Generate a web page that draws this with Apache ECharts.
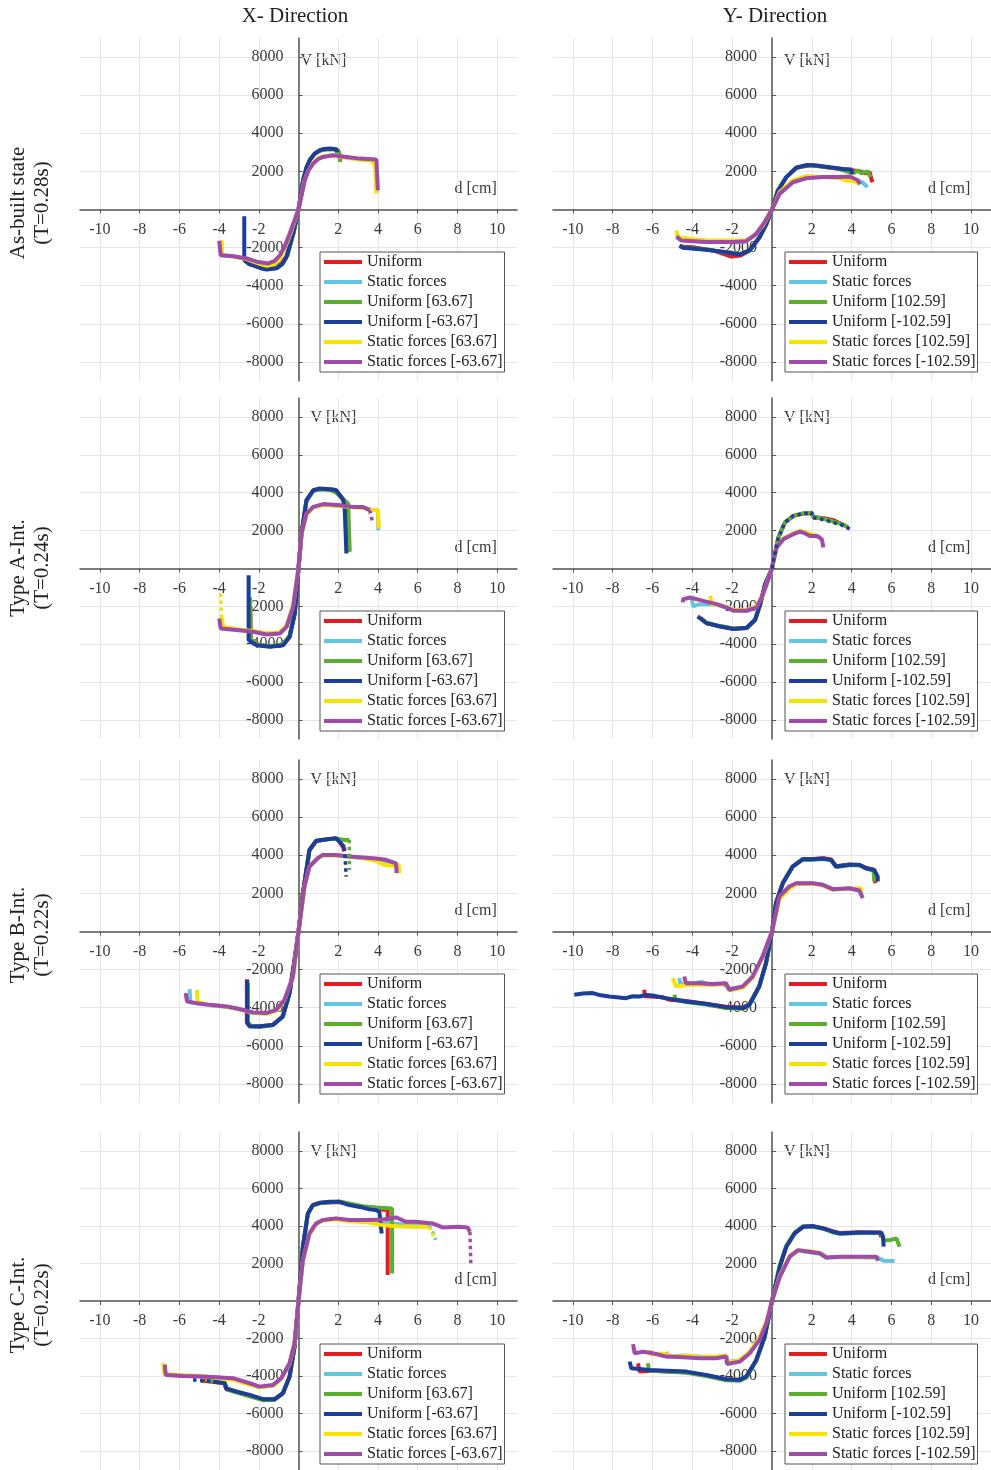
<!DOCTYPE html>
<html>
<head>
<meta charset="utf-8">
<title>Pushover curves</title>
<script src="https://cdn.jsdelivr.net/npm/echarts@6/dist/echarts.min.js"></script>
<style>
  html, body { margin: 0; padding: 0; background: #fff; }
  #chart { width: 991px; height: 1470px; }
</style>
</head>
<body>
<div id="chart"></div>
<script>
// d [cm], V [kN] pairs, one array per curve
// --- As-built, X
const abX_U = [[-2.7,-2650],[-2.45,-2880],[-2.1,-3000],[-1.7,-3120],[-1.2,-3080],[-0.85,-2820],[-0.58,-2420],[-0.26,-1250],[0,0],[0.24,1560],[0.42,2250],[0.58,2620],[0.82,2930],[1.08,3100],[1.4,3170],[1.75,3170],[2.0,3100],[2.12,2620],[2.2,2600]];
const abX_S = [[-3.9,-1650],[-3.88,-2390],[-3.3,-2460],[-2.6,-2590],[-2.1,-2780],[-1.6,-2900],[-1.2,-2800],[-0.9,-2450],[-0.6,-1800],[-0.35,-1100],[0,0],[0.3,1520],[0.5,2050],[0.74,2430],[1.0,2680],[1.3,2790],[1.8,2840],[2.4,2740],[3.1,2640],[3.7,2580],[3.88,2400],[3.95,900]];
const abX_Up = [[-2.65,-2600],[-2.5,-2820],[-2.2,-2950],[-1.8,-3080],[-1.5,-3100],[-1.1,-3050],[-0.8,-2820],[-0.55,-2400],[-0.25,-1250],[0,0],[0.25,1580],[0.45,2300],[0.6,2650],[0.85,2950],[1.1,3100],[1.4,3150],[1.7,3150],[1.95,3150],[2.05,3000],[2.08,2500]];
const abX_Un = [[-2.73,-350],[-2.73,-2660],[-2.5,-2850],[-2.28,-2920],[-1.9,-3080],[-1.6,-3150],[-1.1,-3090],[-0.8,-2850],[-0.6,-2480],[-0.27,-1260],[0,0],[0.23,1540],[0.4,2200],[0.57,2590],[0.8,2920],[1.07,3110],[1.3,3180],[1.57,3200],[1.9,3160],[1.95,3000]];
const abX_Sp = [[-3.87,-1610],[-3.85,-2380],[-3.3,-2470],[-2.6,-2600],[-2.1,-2800],[-1.6,-2950],[-1.2,-2850],[-0.9,-2500],[-0.6,-1800],[-0.35,-1100],[0,0],[0.3,1500],[0.5,2050],[0.74,2450],[1.0,2700],[1.3,2800],[1.8,2830],[2.4,2720],[3.1,2620],[3.7,2560],[3.85,2300],[3.92,840]];
const abX_Sn = [[-3.99,-1640],[-3.92,-2400],[-3.28,-2450],[-2.6,-2570],[-2.1,-2740],[-1.52,-2830],[-1.2,-2700],[-0.94,-2400],[-0.7,-1950],[-0.44,-1260],[0,0],[0.32,1540],[0.5,2050],[0.74,2410],[1.0,2650],[1.24,2760],[1.74,2850],[2.41,2760],[3.08,2670],[3.92,2620],[4.0,1010]];
// --- As-built, Y
const abY_U = [[-4.64,-1940],[-3.97,-1980],[-2.96,-2150],[-2.04,-2470],[-1.6,-2420],[-1.2,-2200],[-0.62,-1450],[-0.28,-750],[0,0],[0.3,1000],[0.72,1700],[1.22,2190],[1.98,2340],[2.9,2190],[3.9,2080],[4.4,2010],[4.7,1900],[4.9,1960],[5.04,1430]];
const abY_S = [[-4.75,-1300],[-4.7,-1550],[-4.3,-1620],[-3.3,-1700],[-2.3,-1690],[-1.4,-1680],[-0.9,-1400],[-0.45,-800],[0,0],[0.38,880],[1.05,1500],[1.72,1720],[2.56,1700],[3.4,1680],[3.9,1650],[4.2,1550],[4.5,1450],[4.8,1180]];
const abY_Up = [[-4.6,-1900],[-4.4,-2000],[-3.3,-2100],[-2.3,-2250],[-1.62,-2340],[-1.12,-2150],[-0.62,-1450],[-0.28,-750],[0,0],[0.3,1000],[0.72,1700],[1.22,2190],[1.72,2330],[2.5,2250],[3.3,2150],[4.07,1900],[4.3,2050],[4.5,1900],[4.8,2000],[4.95,1700]];
const abY_Un = [[-4.64,-1890],[-4.47,-2010],[-3.3,-2115],[-2.29,-2240],[-1.62,-2360],[-1.12,-2150],[-0.62,-1450],[-0.28,-750],[0,0],[0.3,1000],[0.72,1700],[1.22,2190],[1.72,2330],[2.23,2310],[2.9,2220],[3.57,2130],[3.99,2100],[4.02,1870]];
const abY_Sp = [[-4.8,-1100],[-4.72,-1450],[-4.47,-1490],[-3.3,-1630],[-2.3,-1630],[-1.29,-1630],[-0.87,-1360],[-0.45,-840],[0,0],[0.38,900],[1.05,1530],[1.72,1750],[2.56,1700],[3.4,1660],[3.7,1520],[4.1,1500],[4.4,1340]];
const abY_Sn = [[-4.8,-1420],[-4.56,-1630],[-3.3,-1710],[-1.96,-1710],[-1.29,-1660],[-0.79,-1280],[-0.37,-660],[0,0],[0.38,820],[1.05,1430],[1.72,1640],[2.56,1700],[3.4,1700],[3.9,1730],[4.27,1560],[4.44,1340]];
// --- Type A-Int., X
const aX_U = [[-2.42,-2000],[-2.4,-3750],[-2.05,-4020],[-1.44,-4110],[-0.8,-4030],[-0.45,-3580],[-0.19,-2350],[0,0],[0.15,1830],[0.4,3580],[0.74,4120],[1.07,4200],[1.7,4160],[1.9,4100],[2.1,3850],[2.3,3600],[2.4,3300],[2.45,1000]];
const aX_S = [[-3.92,-2700],[-3.88,-3120],[-3.1,-3220],[-2.3,-3320],[-1.6,-3450],[-0.94,-3400],[-0.6,-3050],[-0.27,-2000],[0,0],[0.15,1830],[0.4,2880],[0.74,3230],[1.24,3370],[2.08,3320],[2.75,3240],[3.25,3220],[3.6,3120],[4.0,3080],[4.02,2020]];
const aX_Up = [[-2.45,-1500],[-2.42,-3700],[-2.1,-4000],[-1.44,-4100],[-0.8,-4000],[-0.45,-3550],[-0.2,-2300],[0,0],[0.15,1800],[0.4,3550],[0.74,4100],[1.07,4180],[1.6,4150],[1.9,4000],[2.2,3700],[2.5,3430],[2.58,880]];
const aX_Un = [[-2.51,-350],[-2.51,-3780],[-2.11,-4050],[-1.44,-4130],[-0.77,-4050],[-0.44,-3600],[-0.18,-2370],[0,0],[0.15,1850],[0.4,3610],[0.74,4130],[1.07,4220],[1.74,4170],[1.9,4130],[2.08,3870],[2.25,3610],[2.33,3080],[2.41,790]];
const aX_Sp = [[-3.87,-2550],[-3.79,-3080],[-3.1,-3200],[-2.3,-3300],[-1.6,-3420],[-0.94,-3380],[-0.6,-3020],[-0.27,-1950],[0,0],[0.15,1800],[0.4,2850],[0.74,3220],[1.24,3350],[2.08,3300],[2.75,3230],[3.25,3200],[3.6,3100],[4.0,3080],[4.05,2110]];
const aX_Sn = [[-3.99,-2640],[-3.92,-3170],[-3.12,-3250],[-2.28,-3340],[-1.61,-3480],[-0.94,-3430],[-0.6,-3080],[-0.27,-2020],[0,0],[0.15,1850],[0.4,2900],[0.74,3250],[1.24,3400],[2.08,3340],[2.75,3250],[3.25,3250],[3.58,3080]];
const aX_Sp_dot = [[-3.92,-1320],[-3.87,-2550]];
const aX_Sn_dot = [[3.58,3080],[3.75,2370]];
// --- Type A-Int., Y
const aY_U = [[-3.6,-2600],[-3.3,-2870],[-2.61,-3050],[-1.94,-3180],[-1.27,-3140],[-0.85,-2720],[-0.6,-1920],[-0.35,-850],[0,0],[0.07,400],[0.32,1640],[0.65,2430],[1.07,2780],[1.57,2900],[2.0,2900],[2.1,2700],[2.6,2650],[3.1,2550],[3.5,2350],[3.7,2250]];
const aY_S = [[-4.05,-1550],[-3.95,-2000],[-3.7,-1900],[-3.3,-1880],[-2.9,-1900],[-2.5,-1980],[-2.0,-2180],[-1.3,-2220],[-0.8,-2020],[-0.5,-1500],[-0.27,-820],[0,0],[0.23,1100],[0.57,1560],[1.07,1830],[1.41,1970],[1.7,1880],[2.0,1770],[2.3,1720],[2.45,1620]];
const aY_Up = [[-3.5,-2700],[-3.28,-2880],[-2.61,-3040],[-1.94,-3170],[-1.27,-3150],[-0.85,-2750],[-0.6,-1950],[-0.35,-850],[0,0],[0.07,400],[0.32,1640],[0.65,2430],[1.07,2780],[1.57,2900],[1.99,2950],[2.05,2750],[2.5,2650],[3.0,2500],[3.5,2350],[3.84,2170]];
const aY_Un = [[-3.74,-2530],[-3.7,-2590],[-3.28,-2890],[-2.61,-3060],[-1.94,-3190],[-1.27,-3130],[-0.85,-2700],[-0.6,-1900],[-0.35,-840],[0,0]];
const aY_Sp = [[-3.1,-1450],[-3.03,-1900],[-2.8,-1900],[-2.5,-1980],[-2.2,-2050],[-2.0,-2180],[-1.3,-2220],[-0.8,-2000],[-0.5,-1500],[-0.27,-800],[0,0],[0.23,1100],[0.57,1580],[1.07,1850],[1.41,1990],[1.7,1900],[2.0,1800],[2.43,1640]];
const aY_Sn = [[-4.49,-1790],[-4.46,-1620],[-4.12,-1530],[-3.45,-1710],[-2.78,-1880],[-2.28,-2060],[-1.94,-2230],[-1.27,-2230],[-0.77,-2060],[-0.52,-1530],[-0.27,-830],[0,0],[0.07,400],[0.23,1110],[0.57,1550],[1.07,1810],[1.41,1950],[1.66,1850],[1.91,1720],[2.24,1720],[2.5,1550],[2.58,1110]];
const aY_Un_dot = [[0,0],[0.07,400],[0.32,1640],[0.65,2430],[1.07,2780],[1.57,2900],[2.0,2960],[2.0,2690],[2.5,2600],[3.0,2450],[3.5,2300],[3.92,2080]];
// --- Type B-Int., X
const bX_U = [[-2.6,-2500],[-2.6,-4780],[-2.45,-4960],[-1.96,-4970],[-1.29,-4890],[-0.79,-4450],[-0.45,-3220],[-0.2,-1480],[0,0],[0.22,2000],[0.55,4270],[0.89,4750],[1.56,4850],[1.89,4890],[2.06,4720],[2.23,4460],[2.31,4200]];
const bX_S = [[-5.48,-3020],[-5.45,-3720],[-4.9,-3800],[-4.3,-3880],[-3.63,-3950],[-2.96,-4100],[-2.29,-4270],[-1.62,-4300],[-1.12,-4130],[-0.7,-3600],[-0.28,-2370],[0,0],[0.3,2340],[0.55,3400],[0.97,3840],[1.22,4010],[1.89,4010],[2.56,3920],[3.23,3870],[3.9,3780],[4.41,3700],[4.9,3550],[5.0,3100]];
const bX_Up = [[-2.55,-2700],[-2.55,-4750],[-2.4,-4950],[-1.9,-5000],[-1.29,-4920],[-0.8,-4500],[-0.45,-3250],[-0.2,-1500],[0,0],[0.22,2000],[0.55,4250],[0.89,4750],[1.56,4850],[2.0,4850],[2.3,4800],[2.56,4810]];
const bX_Un = [[-2.58,-2540],[-2.58,-4810],[-2.46,-4980],[-1.96,-4980],[-1.29,-4900],[-0.79,-4460],[-0.45,-3230],[-0.2,-1490],[0,0],[0.22,2010],[0.55,4280],[0.89,4760],[1.56,4860],[1.89,4900],[2.06,4720],[2.31,4420]];
const bX_Sp = [[-5.11,-3060],[-5.08,-3700],[-4.5,-3850],[-3.6,-3950],[-2.9,-4100],[-2.3,-4280],[-1.6,-4320],[-1.1,-4150],[-0.7,-3600],[-0.28,-2380],[0,0],[0.3,2350],[0.55,3400],[0.97,3850],[1.22,4000],[1.89,3990],[2.56,3930],[3.23,3850],[3.9,3700],[4.3,3500],[4.7,3450],[5.05,3500],[5.08,3060]];
const bX_Sn = [[-5.68,-3230],[-5.61,-3670],[-5.14,-3760],[-4.47,-3850],[-3.63,-3930],[-2.96,-4070],[-2.29,-4250],[-1.62,-4280],[-1.12,-4110],[-0.7,-3580],[-0.28,-2360],[0,0],[0.3,2360],[0.55,3410],[0.97,3850],[1.22,4020],[1.89,4020],[2.56,3930],[3.23,3880],[3.9,3830],[4.41,3760],[4.91,3580],[4.94,3060]];
const bX_Up_dot = [[2.56,4810],[2.56,3230]];
const bX_Un_dot = [[2.31,4420],[2.35,3800],[2.4,2880]];
// --- Type B-Int., Y
const bY_U = [[-6.42,-3060],[-6.38,-3400],[-5.9,-3420],[-5.5,-3450],[-5.16,-3580],[-4.3,-3650],[-3.3,-3800],[-2.3,-3950],[-1.5,-4000],[-1.14,-3830],[-0.64,-2860],[-0.3,-1650],[0,0],[0.2,1500],[0.54,2550],[1.04,3420],[1.54,3800],[2.04,3800],[2.6,3850],[2.97,3780],[3.22,3430],[3.89,3520],[4.39,3480],[4.72,3350],[5.1,3250],[5.19,2530]];
const bY_S = [[-4.66,-2450],[-4.6,-2750],[-4.0,-2720],[-3.5,-2650],[-3.2,-2780],[-2.5,-2740],[-2.14,-3000],[-1.47,-2900],[-0.97,-2380],[-0.47,-1320],[0,0],[0.37,1800],[0.87,2340],[1.21,2520],[2.04,2520],[2.55,2440],[3.05,2210],[3.89,2260],[4.4,2150],[4.5,1900]];
const bY_Up = [[-4.9,-3320],[-4.85,-3560],[-4.32,-3700],[-3.32,-3830],[-2.31,-4010],[-1.47,-4060],[-1.14,-3880],[-0.64,-2900],[-0.3,-1680],[0,0],[0.2,1480],[0.54,2520],[1.04,3400],[1.54,3780],[2.04,3760],[2.55,3800],[2.97,3740],[3.22,3380],[3.89,3480],[4.39,3480],[4.72,3300],[5.1,3200],[5.14,2620]];
const bY_Un = [[-9.93,-3320],[-9.5,-3250],[-9.0,-3230],[-8.6,-3350],[-8.17,-3410],[-7.8,-3450],[-7.34,-3500],[-7.0,-3400],[-6.67,-3410],[-6.3,-3330],[-6.0,-3360],[-5.33,-3500],[-4.32,-3670],[-3.32,-3790],[-2.31,-3970],[-1.47,-4020],[-1.14,-3850],[-0.64,-2880],[-0.3,-1660],[0,0],[0.2,1490],[0.54,2530],[1.04,3410],[1.54,3790],[2.04,3790],[2.55,3830],[2.97,3760],[3.22,3410],[3.89,3500],[4.39,3500],[4.72,3320],[5.14,3230],[5.31,2880],[5.31,2620]];
const bY_Sp = [[-4.99,-2450],[-4.82,-2880],[-4.2,-2800],[-3.5,-2780],[-2.9,-2800],[-2.3,-2760],[-2.14,-3100],[-1.47,-2960],[-0.97,-2420],[-0.47,-1350],[0,0],[0.37,1700],[0.87,2250],[1.21,2480],[2.04,2500],[2.55,2420],[3.05,2200],[3.89,2250],[4.47,2270],[4.5,2050]];
const bY_Sn = [[-4.41,-2360],[-4.32,-2710],[-3.65,-2710],[-2.98,-2760],[-2.31,-2710],[-2.14,-3060],[-1.47,-2880],[-0.97,-2360],[-0.47,-1310],[0,0],[0.37,1840],[0.87,2360],[1.21,2530],[2.04,2530],[2.55,2450],[3.05,2220],[3.89,2270],[4.39,2150],[4.56,1750]];
// --- Type C-Int., X
const cX_U = [[-4.9,-4240],[-3.72,-4380],[-3.64,-4700],[-3.13,-4850],[-2.46,-5050],[-1.79,-5250],[-1.21,-5250],[-0.79,-4930],[-0.45,-4040],[-0.2,-2440],[0,0],[0.22,2880],[0.47,4650],[0.72,5100],[1.06,5220],[1.56,5250],[2.06,5270],[2.56,5150],[3.23,5000],[3.9,4900],[4.49,4840],[4.49,1380]];
const cX_S = [[-6.75,-3350],[-6.7,-3920],[-5.8,-3970],[-4.9,-4010],[-4.1,-4080],[-3.3,-4150],[-2.46,-4400],[-1.96,-4580],[-1.29,-4490],[-0.87,-4120],[-0.45,-3330],[-0.2,-2260],[0,0],[0.22,2170],[0.55,3580],[0.89,4120],[1.22,4300],[1.89,4380],[2.56,4290],[3.4,4250],[4.24,4100],[4.5,4150],[5.5,4050],[6.58,4040]];
const cX_Up = [[-4.7,-4200],[-3.7,-4350],[-3.6,-4700],[-3.13,-4870],[-2.46,-5080],[-1.79,-5280],[-1.21,-5270],[-0.79,-4950],[-0.45,-4060],[-0.2,-2450],[0,0],[0.22,2850],[0.47,4630],[0.72,5080],[1.06,5200],[1.56,5260],[2.06,5300],[2.56,5200],[3.23,5050],[3.9,4980],[4.71,4930],[4.71,1470]];
const cX_Un = [[-4.3,-4290],[-3.72,-4380],[-3.64,-4650],[-3.13,-4820],[-2.46,-5000],[-1.79,-5230],[-1.21,-5230],[-0.79,-4910],[-0.45,-4020],[-0.2,-2430],[0,0],[0.22,2890],[0.47,4660],[0.72,5110],[1.06,5230],[1.56,5280],[2.06,5280],[2.56,5110],[3.23,4980],[3.57,4880],[3.9,4840],[4.07,4750],[4.15,3950],[4.19,3600]];
const cX_Sp = [[-6.81,-3310],[-6.75,-3900],[-5.8,-3960],[-4.9,-4000],[-4.1,-4100],[-3.3,-4200],[-2.46,-4450],[-1.96,-4600],[-1.29,-4520],[-0.87,-4150],[-0.45,-3350],[-0.2,-2280],[0,0],[0.22,2150],[0.55,3550],[0.89,4100],[1.22,4280],[1.89,4350],[2.56,4250],[3.4,4200],[4.24,4040],[5.0,3980],[5.9,3960],[6.58,3950]];
const cX_Sn = [[-6.73,-3400],[-6.68,-3940],[-5.81,-3990],[-4.97,-4020],[-4.14,-4060],[-3.3,-4110],[-2.46,-4380],[-1.96,-4560],[-1.29,-4470],[-0.87,-4110],[-0.45,-3320],[-0.2,-2250],[0,0],[0.22,2180],[0.55,3600],[0.89,4130],[1.22,4310],[1.89,4400],[2.56,4310],[3.4,4310],[4.24,4340],[4.91,4450],[5.41,4220],[5.91,4220],[6.75,4130],[7.25,3920],[8.09,3950],[8.51,3920],[8.63,3690]];
const cX_S_dot = [[6.58,4040],[6.8,3600],[6.9,3250]];
const cX_Un_dot = [[-5.31,-4200],[-4.3,-4290]];
const cX_Sp_dot = [[6.58,3950],[6.75,3600],[6.83,3250]];
const cX_Sn_dot = [[8.63,3690],[8.68,1830]];
// --- Type C-Int., Y
const cY_U = [[-6.73,-3320],[-6.65,-3760],[-6.0,-3720],[-5.3,-3760],[-4.3,-3800],[-3.3,-3960],[-2.29,-4180],[-1.62,-4220],[-1.29,-4040],[-0.79,-3150],[-0.37,-1900],[0,0],[0.39,1850],[0.72,2900],[1.14,3620],[1.56,3960],[2.06,3980],[2.56,3880],[3.07,3700],[3.4,3620],[4.41,3660],[5.4,3640],[5.5,3400]];
const cY_S = [[-5.31,-2700],[-5.25,-2950],[-4.5,-2900],[-3.6,-2950],[-2.8,-2980],[-2.29,-2950],[-2.26,-3250],[-1.62,-3150],[-1.12,-2720],[-0.62,-2000],[-0.28,-1150],[0,0],[0.39,1300],[0.89,2380],[1.31,2680],[1.89,2600],[2.4,2520],[2.73,2300],[3.4,2340],[4.41,2330],[5.3,2300],[5.6,2150],[6.16,2130]];
const cY_Up = [[-6.23,-3320],[-6.18,-3720],[-5.31,-3760],[-4.3,-3820],[-3.3,-4000],[-2.29,-4220],[-1.62,-4250],[-1.29,-4080],[-0.79,-3200],[-0.37,-1950],[0,0],[0.39,1900],[0.72,2950],[1.14,3650],[1.56,3980],[2.06,3950],[2.56,3850],[3.07,3650],[3.4,3580],[4.41,3620],[5.49,3620],[5.6,3250],[5.91,3240],[6.25,3330],[6.41,2890]];
const cY_Un = [[-7.15,-3230],[-7.07,-3580],[-6.15,-3670],[-5.31,-3710],[-4.3,-3760],[-3.3,-3940],[-2.29,-4170],[-1.62,-4200],[-1.29,-4020],[-0.79,-3140],[-0.37,-1900],[0,0],[0.39,1830],[0.72,2890],[1.14,3600],[1.56,3950],[2.06,3990],[2.56,3870],[3.07,3690],[3.4,3600],[4.41,3650],[5.49,3650],[5.58,3420],[5.61,2890]];
const cY_Sp = [[-6.15,-2610],[-6.1,-2850],[-5.5,-2800],[-4.9,-2950],[-4.2,-2900],[-3.63,-3000],[-2.8,-2950],[-2.29,-2900],[-2.26,-3300],[-1.62,-3150],[-1.12,-2700],[-0.62,-1950],[-0.28,-1100],[0,0],[0.39,1350],[0.89,2400],[1.31,2700],[1.89,2650],[2.4,2560],[2.73,2340],[3.4,2340],[4.41,2340],[5.24,2330],[5.24,2180]];
const cY_Sn = [[-6.98,-2300],[-6.9,-2780],[-6.48,-2700],[-5.98,-2780],[-5.31,-2960],[-4.47,-3000],[-3.63,-3050],[-2.8,-3050],[-2.29,-2960],[-2.26,-3350],[-1.62,-3230],[-1.12,-2780],[-0.62,-2070],[-0.28,-1190],[0,0],[0.39,1290],[0.89,2360],[1.31,2710],[1.89,2620],[2.4,2540],[2.73,2320],[3.4,2360],[4.41,2360],[5.24,2360],[5.33,2150]];

const namesX = ["Uniform", "Static forces", "Uniform [63.67]", "Uniform [-63.67]", "Static forces [63.67]", "Static forces [-63.67]"];
const namesY = ["Uniform", "Static forces", "Uniform [102.59]", "Uniform [-102.59]", "Static forces [102.59]", "Static forces [-102.59]"];
const colors = ["#e31b23", "#63c5df", "#5bae30", "#1b3e98", "#f6e300", "#a04ba7"];
const xTicks = [-10, -8, -6, -4, -2, 0, 2, 4, 6, 8, 10];
const yTicks = [-8000, -6000, -4000, -2000, 0, 2000, 4000, 6000, 8000];
const colTitles = ["X- Direction", "Y- Direction"];
const rowTitles = [
  ["As-built state", "(T=0.28s)"],
  ["Type A-Int.", "(T=0.24s)"],
  ["Type B-Int.", "(T=0.22s)"],
  ["Type C-Int.", "(T=0.22s)"]
];

// panels in reading order; dotted = [curve index, data]
const panels = [
  { curves: [abX_U, abX_S, abX_Up, abX_Un, abX_Sp, abX_Sn], dotted: [] },
  { curves: [abY_U, abY_S, abY_Up, abY_Un, abY_Sp, abY_Sn], dotted: [] },
  { curves: [aX_U, aX_S, aX_Up, aX_Un, aX_Sp, aX_Sn], dotted: [[4, aX_Sp_dot], [5, aX_Sn_dot]] },
  { curves: [aY_U, aY_S, aY_Up, aY_Un, aY_Sp, aY_Sn], dotted: [[3, aY_Un_dot]] },
  { curves: [bX_U, bX_S, bX_Up, bX_Un, bX_Sp, bX_Sn], dotted: [[2, bX_Up_dot], [3, bX_Un_dot]] },
  { curves: [bY_U, bY_S, bY_Up, bY_Un, bY_Sp, bY_Sn], dotted: [] },
  { curves: [cX_U, cX_S, cX_Up, cX_Un, cX_Sp, cX_Sn], dotted: [[1, cX_S_dot], [3, cX_Un_dot], [4, cX_Sp_dot], [5, cX_Sn_dot]] },
  { curves: [cY_U, cY_S, cY_Up, cY_Un, cY_Sp, cY_Sn], dotted: [] }
];

// layout (px)
const font = "Liberation Serif";
const colLeft = [80, 553];
const colWidth = [437, 438];
const rowTop = [38, 398, 760, 1132];
const rowHeight = [343, 341, 343, 338];
const legendLeft = [320, 785];
const legendTop = [252, 611, 974, 1344];
const titleX = [295, 775];
const rowLabelY = [203, 568, 935, 1305];

const grid = [], xAxis = [], yAxis = [], legend = [], series = [], graphic = [];

panels.forEach(function (p, i) {
  const r = Math.floor(i / 2), c = i % 2;
  const names = c === 0 ? namesX : namesY;
  grid.push({ left: colLeft[c], top: rowTop[r], width: colWidth[c], height: rowHeight[r] });
  // axes are shifted into the middle of the grid, where d = 0 and V = 0
  xAxis.push({
    type: "value", gridIndex: i, min: -11, max: 11,
    offset: -rowHeight[r] / 2,
    axisLine: { onZero: false, lineStyle: { color: "#555", width: 1.5 } },
    axisTick: { customValues: xTicks, length: 4, lineStyle: { color: "#555" } },
    axisLabel: { customValues: xTicks.filter(v => v !== 0), margin: 12, fontFamily: font, fontSize: 16, color: "#3a3a3a", formatter: v => String(v) },
    splitLine: { show: true, lineStyle: { color: "#e6e6e6" } }
  });
  yAxis.push({
    type: "value", gridIndex: i, min: -9000, max: 9000,
    offset: -colWidth[c] / 2,
    axisLine: { onZero: false, lineStyle: { color: "#555", width: 1.5 } },
    axisTick: { customValues: yTicks, inside: true, length: 4, lineStyle: { color: "#555" } },
    axisLabel: { customValues: yTicks.filter(v => v !== 0), margin: 15, fontFamily: font, fontSize: 16, color: "#3a3a3a", formatter: v => String(v) },
    splitLine: { show: true, lineStyle: { color: "#e6e6e6" } }
  });
  legend.push({
    left: legendLeft[c], top: legendTop[r], orient: "vertical",
    data: names, icon: "rect", itemWidth: 38, itemHeight: 4, itemGap: 4,
    padding: [2, 2, 2, 4], borderColor: "#555", borderWidth: 1, backgroundColor: "#fff",
    selectedMode: false,
    textStyle: { fontFamily: font, fontSize: 16, color: "#222", lineHeight: 16 }
  });
  p.curves.forEach(function (data, k) {
    series.push({
      type: "line", name: names[k], xAxisIndex: i, yAxisIndex: i, data: data,
      showSymbol: false, symbol: "none", silent: true,
      itemStyle: { color: colors[k] },
      lineStyle: { color: colors[k], width: 4 }
    });
  });
  p.dotted.forEach(function (d) {
    series.push({
      type: "line", name: names[d[0]], xAxisIndex: i, yAxisIndex: i, data: d[1],
      showSymbol: false, symbol: "none", silent: true,
      itemStyle: { color: colors[d[0]] },
      lineStyle: { color: colors[d[0]], width: 3.5, type: "dotted" }
    });
  });

  // axis names
  const x0 = colLeft[c] + colWidth[c] / 2;
  const y0 = rowTop[r] + rowHeight[r] / 2;
  const y8000 = rowTop[r] + rowHeight[r] * (1000 / 18000);
  graphic.push({
    type: "text", x: x0 + (i === 0 ? 2 : 12), y: y8000 + (r === 0 ? 4 : 1),
    style: { text: "V [kN]", font: "16px '" + font + "'", fill: "#3a3a3a", textVerticalAlign: "middle" }
  });
  graphic.push({
    type: "text", x: x0 + 156, y: y0 - 21,
    style: { text: "d [cm]", font: "16px '" + font + "'", fill: "#3a3a3a", textVerticalAlign: "middle" }
  });
});

colTitles.forEach(function (t, c) {
  graphic.push({
    type: "text", x: titleX[c], y: 16,
    style: { text: t, font: "21px '" + font + "'", fill: "#222", textAlign: "center", textVerticalAlign: "middle" }
  });
});
rowTitles.forEach(function (t, r) {
  [18, 42].forEach(function (x, j) {
    graphic.push({
      type: "text", x: x, y: rowLabelY[r], rotation: Math.PI / 2,
      style: { text: t[j], font: "21px '" + font + "'", fill: "#222", textAlign: "center", textVerticalAlign: "middle" }
    });
  });
});

const chart = echarts.init(document.getElementById("chart"));
chart.setOption({
  animation: false,
  backgroundColor: "#fff",
  grid: grid,
  xAxis: xAxis,
  yAxis: yAxis,
  legend: legend,
  series: series,
  graphic: graphic
});
</script>
</body>
</html>
